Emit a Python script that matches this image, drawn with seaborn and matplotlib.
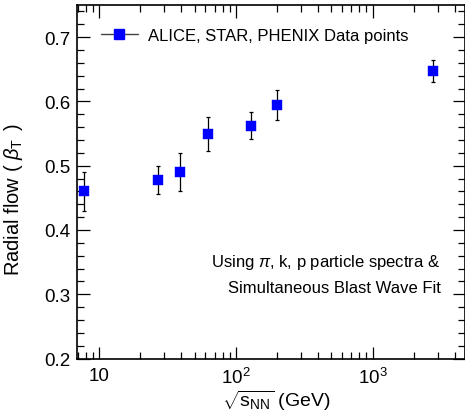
import matplotlib
matplotlib.use("Agg")
import matplotlib.pyplot as plt
import matplotlib.ticker as mticker
from matplotlib.lines import Line2D
import pandas as pd
import seaborn as sns

# data
energy = [7.7, 27, 39, 62.4, 130, 200, 2760]          # sqrt(s_NN) in GeV
beta_t = [0.460, 0.478, 0.490, 0.549, 0.562, 0.594, 0.647]
beta_err = [0.030, 0.022, 0.030, 0.026, 0.021, 0.023, 0.017]
x_ticks = [10, 100, 1000]
x_tick_labels = ["10", "$10^2$", "$10^3$"]

df = pd.DataFrame({"energy": energy, "beta": beta_t, "err": beta_err})

sns.set_style("ticks")
plt.rcParams["font.family"] = ["Liberation Sans", "DejaVu Sans"]
plt.rcParams["mathtext.fontset"] = "custom"
plt.rcParams["mathtext.rm"] = "Liberation Sans"
plt.rcParams["mathtext.it"] = "Liberation Sans:italic"
plt.rcParams["mathtext.bf"] = "Liberation Sans:bold"
for k in ["text.color", "axes.labelcolor", "xtick.color", "ytick.color", "axes.edgecolor"]:
    plt.rcParams[k] = "black"

fig = plt.figure(figsize=(4.65, 4.14), dpi=100)
ax = fig.add_axes([77 / 465, 1 - 359.5 / 414, 387.5 / 465, 353.5 / 414])

ax.errorbar(df["energy"], df["beta"], yerr=df["err"], fmt="none",
            ecolor="black", elinewidth=0.9, capsize=1.5, capthick=0.9, zorder=2)
sns.scatterplot(data=df, x="energy", y="beta", marker="s", s=48,
                color="#0000ff", edgecolor="#0000ff", linewidth=0.3,
                ax=ax, zorder=3, legend=False)

ax.set_xscale("log")
ax.set_xlim(6.9, 4700)
ax.set_ylim(0.2, 0.75)

ax.set_xticks(x_ticks)
ax.set_xticklabels(x_tick_labels)
ax.xaxis.set_minor_locator(mticker.LogLocator(base=10, subs=range(2, 10)))
ax.xaxis.set_minor_formatter(mticker.NullFormatter())
ax.set_yticks([0.2, 0.3, 0.4, 0.5, 0.6, 0.7])
ax.set_yticklabels(["0.2", "0.3", "0.4", "0.5", "0.6", "0.7"])
ax.yaxis.set_minor_locator(mticker.AutoMinorLocator(5))

ax.tick_params(which="both", direction="in", top=True, right=True, width=0.9)
ax.tick_params(which="major", length=9, labelsize=13.5)
ax.tick_params(axis="y", which="major", pad=5)
ax.tick_params(axis="x", which="major", pad=6)
ax.tick_params(which="minor", length=5)
for sp in ax.spines.values():
    sp.set_linewidth(1.2)

ax.set_xlabel(r"$\sqrt{\mathrm{s}_{\rm NN}}$ (GeV)", fontsize=14)
ax.set_ylabel(r"Radial flow ( $\beta_{\rm T}\,$ )", fontsize=14.5)
ax.xaxis.set_label_coords(0.515, -0.082)
ax.yaxis.set_label_coords(-0.135, 0.452)

handle = Line2D([], [], color="#444444", lw=1.0, marker="s", markersize=7,
                markerfacecolor="#0000ff", markeredgecolor="#0000ff")
ax.legend([handle], ["ALICE, STAR, PHENIX Data points"], loc="center left",
          bbox_to_anchor=(0.045, 0.915), frameon=False, fontsize=12,
          handlelength=2.2, handletextpad=0.6, borderaxespad=0)

ax.text(0.938, 0.275, r"Using $\pi$, k, p particle spectra &", transform=ax.transAxes,
        ha="right", va="center", fontsize=12)
ax.text(0.938, 0.201, "Simultaneous Blast Wave Fit", transform=ax.transAxes,
        ha="right", va="center", fontsize=12)

fig.savefig("out.png", dpi=100)
